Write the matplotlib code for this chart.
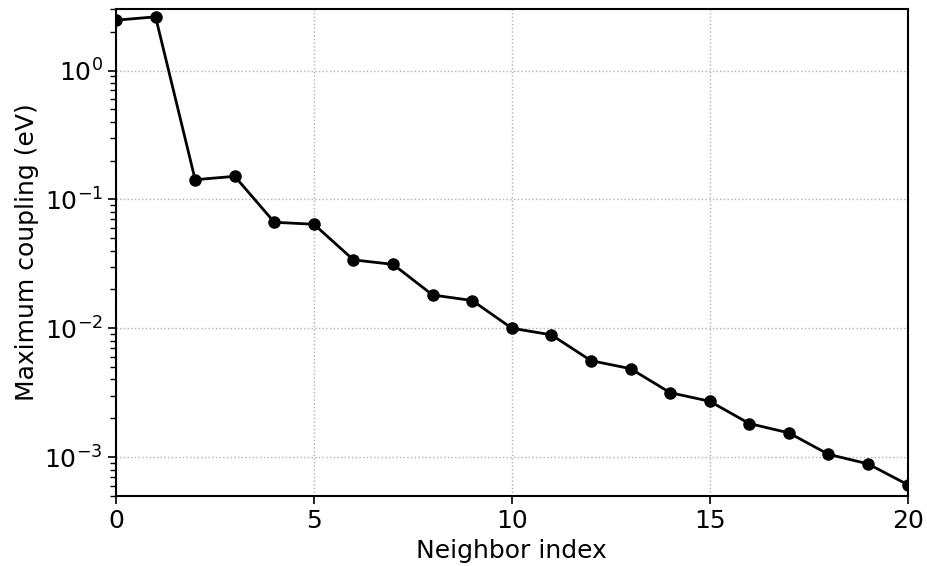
import numpy as np
import matplotlib.pyplot as plt

# neighbor index and maximum coupling (eV)
neighbor = np.arange(21)
coupling = [2.46, 2.61, 0.142, 0.151, 0.0664, 0.0641, 0.0339, 0.0313,
            0.0181, 0.0164, 0.0100, 0.00888, 0.0056, 0.00485, 0.00316,
            0.00271, 0.00182, 0.00154, 0.00105, 0.000885, 0.000611]

fig = plt.figure(figsize=(9.28, 5.66), dpi=100)
ax = fig.add_axes([0.125, 0.124, 0.853, 0.860])

ax.semilogy(neighbor, coupling, 'k-o', lw=2, ms=8)
ax.set_xlim(0, 20)
ax.set_ylim(5e-4, 3)
ax.set_xticks([0, 5, 10, 15, 20])

ax.grid(True, which='major', linestyle=':', color='#b0b0b0', lw=1)
ax.set_xlabel('Neighbor index', fontsize=18)
ax.set_ylabel('Maximum coupling (eV)', fontsize=18)
ax.tick_params(labelsize=18, width=1.2, length=6)
ax.tick_params(which='minor', width=1, length=4)
for s in ax.spines.values():
    s.set_linewidth(1.5)

fig.savefig('out.png')
